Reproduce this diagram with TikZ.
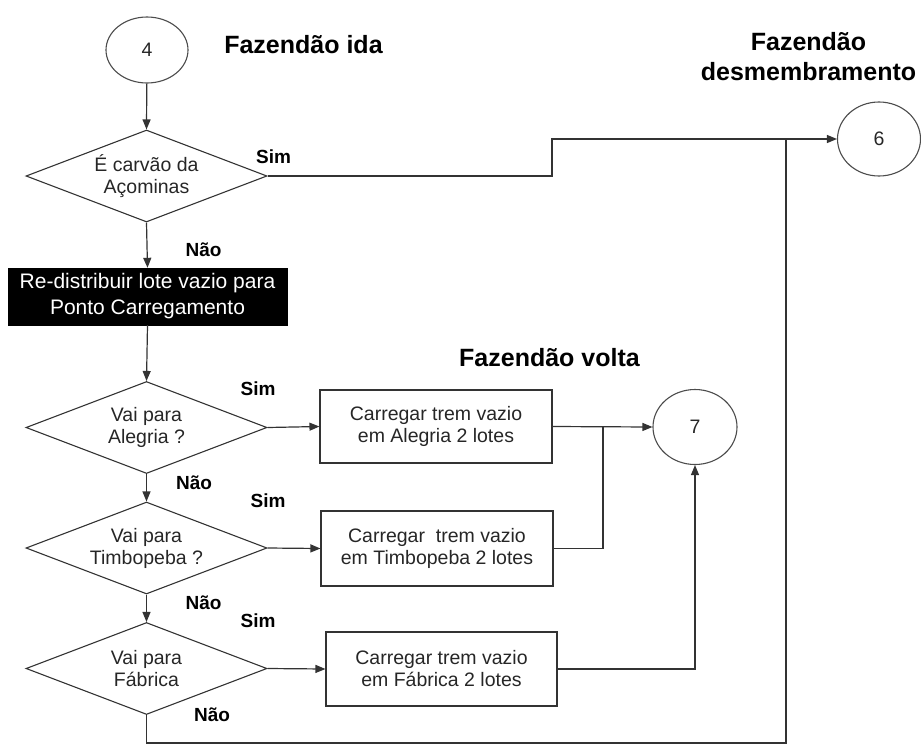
\documentclass[tikz,border=0pt]{standalone}
\usepackage{fontspec}
\setmainfont{Liberation Sans}
\usetikzlibrary{shapes.geometric,arrows.meta}
\begin{document}
\begin{tikzpicture}[x=1pt,y=-1pt,
  line/.style={draw=black!80,line width=1.2pt},
  arr/.style={line,-{Triangle[length=10pt,width=8pt]}},
  bodyfont/.style={font=\fontsize{19.5}{22}\selectfont},
  conn/.style={ellipse,draw=black!70,line width=1.1pt,inner sep=0pt,bodyfont,text=black!85},
  decision/.style={diamond,shape aspect=2.62,draw=black!80,line width=1.1pt,inner sep=0pt,
    minimum width=241pt,minimum height=92pt,align=center,bodyfont,text=black!85},
  process/.style={rectangle,draw=black!80,line width=1.1pt,inner sep=0pt,
    minimum width=232pt,minimum height=74pt,align=center,bodyfont,text=black!85},
  blackbox/.style={rectangle,fill=black,draw=black,text=white,inner sep=0pt,
    minimum width=279pt,minimum height=57pt,align=center,
    font=\fontsize{21}{26}\selectfont},
  answer/.style={font=\bfseries\fontsize{19}{22}\selectfont,inner sep=0pt},
  heading/.style={font=\bfseries\fontsize{25}{30}\selectfont,inner sep=0pt,align=center}]

\useasboundingbox (0,0) rectangle (921,745);

% headings
\node[heading] (hIda) at (303.5,45) {Fazendão ida};
\node[heading] (hDes) at (808.5,57) {Fazendão\\desmembramento};
\node[heading] (hVolta) at (549.5,358) {Fazendão volta};

% connectors (off-page references)
\node[conn,minimum width=82pt,minimum height=66pt] (c4) at (147,50) {4};
\node[conn,minimum width=83pt,minimum height=74pt] (c6) at (879,139) {6};
\node[conn,minimum width=84pt,minimum height=75pt] (c7) at (695,427) {7};

% decisions
\node[decision] (d1) at (146.5,176) {É carvão da\\Açominas};
\node[blackbox] (redist) at (147.5,296.5) {Re-distribuir lote vazio para\\Ponto Carregamento};
\node[decision] (d2) at (146.5,427.5) {Vai para\\Alegria ?};
\node[decision] (d3) at (146.5,548) {Vai para\\Timbopeba ?};
\node[decision] (d4) at (146.5,668.5) {Vai para\\Fábrica};

% loading steps
\node[process,minimum height=73pt] (b1) at (436,426.5) {Carregar trem vazio\\em Alegria 2 lotes};
\node[process,minimum height=75pt] (b2) at (437,548.5) {Carregar\ \ trem vazio\\em Timbopeba 2 lotes};
\node[process,minimum width=231pt] (b3) at (441.5,669) {Carregar trem vazio\\em Fábrica 2 lotes};

% branch labels
\node[answer] (s1) at (273.5,157) {Sim};
\node[answer] (n1) at (203.5,250) {Não};
\node[answer] (s2) at (258,389) {Sim};
\node[answer] (n2) at (194,483) {Não};
\node[answer] (s3) at (268,501) {Sim};
\node[answer] (n3) at (203.5,603) {Não};
\node[answer] (s4) at (258,621) {Sim};
\node[answer] (n4) at (212,715) {Não};

% routing points
\coordinate (jog) at (552,176);
\coordinate (join6) at (786,139);
\coordinate (corner) at (786,743);
\coordinate (merge7) at (603,427);

% flow
\draw[arr] (c4) -- (d1.north);
\draw[arr] (d1.east) -- (jog) |- (c6.west);
\draw[arr] (d1.south) -- (redist.north);
\draw[arr] (redist.south) -- (d2.north);
\draw[arr] (d2.east) -- (b1.west);
\draw[arr] (d2.south) -- (d3.north);
\draw[arr] (d3.east) -- (b2.west);
\draw[arr] (d3.south) -- (d4.north);
\draw[arr] (d4.east) -- (b3.west);
\draw[arr] (b1.east) -- (c7.west);
\draw[line] (b2.east) -| (merge7);
\draw[arr] (b3.east) -| (c7.south);
\draw[line] (d4.south) |- (corner) -- (join6);
\end{tikzpicture}
\end{document}
